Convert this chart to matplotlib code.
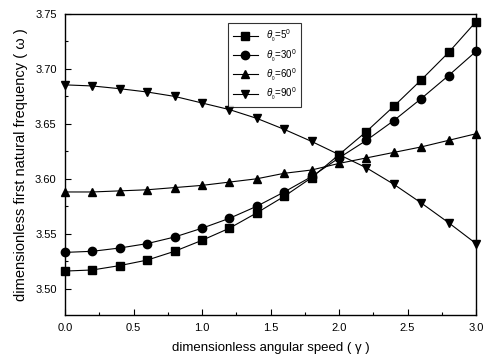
import matplotlib
matplotlib.use("Agg")
import matplotlib.pyplot as plt
from matplotlib.ticker import MultipleLocator

plt.rcParams["font.family"] = ["Liberation Sans", "DejaVu Sans"]
plt.rcParams["mathtext.fontset"] = "custom"
plt.rcParams["mathtext.rm"] = "Liberation Sans"
plt.rcParams["mathtext.it"] = "Liberation Sans:italic"

gamma = [0.0, 0.2, 0.4, 0.6, 0.8, 1.0, 1.2, 1.4, 1.6, 1.8, 2.0, 2.2, 2.4, 2.6, 2.8, 3.0]
w_5 = [3.516, 3.517, 3.521, 3.526, 3.534, 3.544, 3.555, 3.569, 3.584, 3.601,
       3.622, 3.643, 3.666, 3.690, 3.715, 3.743]
w_30 = [3.533, 3.534, 3.537, 3.541, 3.547, 3.555, 3.564, 3.575, 3.588, 3.602,
        3.619, 3.635, 3.653, 3.673, 3.694, 3.716]
w_60 = [3.588, 3.588, 3.589, 3.590, 3.592, 3.594, 3.597, 3.600, 3.605, 3.608,
        3.614, 3.619, 3.624, 3.629, 3.635, 3.641]
w_90 = [3.6855, 3.6845, 3.682, 3.679, 3.675, 3.669, 3.663, 3.655, 3.645, 3.634,
        3.622, 3.610, 3.595, 3.578, 3.560, 3.541]

series = [
    (w_5, "s", r"$\theta_{_0}$=5$^{0}$"),
    (w_30, "o", r"$\theta_{_0}$=30$^{0}$"),
    (w_60, "^", r"$\theta_{_0}$=60$^{0}$"),
    (w_90, "v", r"$\theta_{_0}$=90$^{0}$"),
]

fig = plt.figure(figsize=(4.84, 3.61), dpi=100)
ax = fig.add_axes([0.1343, 0.1274, 0.8492, 0.8338])
for ys, mk, lab in series:
    ax.plot(gamma, ys, color="black", lw=0.8, marker=mk, ms=6, label=lab,
            clip_on=False)

ax.set_xlim(0, 3.0)
ax.set_ylim(3.476, 3.75)
ax.xaxis.set_major_locator(MultipleLocator(0.5))
ax.xaxis.set_minor_locator(MultipleLocator(0.25))
ax.yaxis.set_major_locator(MultipleLocator(0.05))
ax.yaxis.set_minor_locator(MultipleLocator(0.025))
ax.xaxis.set_major_formatter(plt.FormatStrFormatter("%.1f"))
ax.yaxis.set_major_formatter(plt.FormatStrFormatter("%.2f"))
ax.tick_params(which="both", direction="in", labelsize=8, width=0.8)
ax.tick_params(which="major", length=4, pad=6)
ax.tick_params(which="minor", length=2)
for s in ax.spines.values():
    s.set_linewidth(1.0)

ax.set_xlabel("dimensionless angular speed ( \u03b3 )", fontsize=9.5, labelpad=6)
ax.set_ylabel("dimensionless first natural frequency ( \u03c9 )", fontsize=10.5, labelpad=5)

leg = ax.legend(loc="upper left", bbox_to_anchor=(0.397, 0.97), fontsize=7,
                frameon=True, fancybox=False, edgecolor="black", borderaxespad=0,
                handlelength=2.6, labelspacing=0.25, borderpad=0.45)
leg.get_frame().set_linewidth(0.8)

fig.savefig("out.png", dpi=100)
